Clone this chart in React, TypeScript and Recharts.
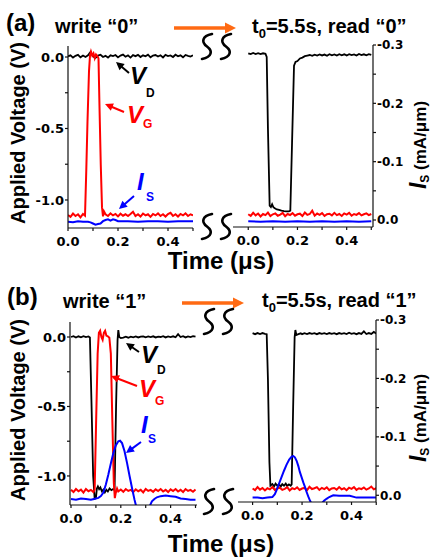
import React from 'react';
import { LineChart, Line, XAxis, YAxis } from 'recharts';

const W = 436;
const H = 557;
const SANS = '"Liberation Sans", Arial, sans-serif';
const TICKF = '"DejaVu Sans", sans-serif';

// ---------- data ----------
type Pt = [number, number];

const tSteps = [
  0, 0.01, 0.02, 0.03, 0.04, 0.05, 0.06, 0.07, 0.08, 0.09,
  0.1, 0.11, 0.12, 0.13, 0.14, 0.15, 0.16, 0.17, 0.18, 0.19,
  0.2, 0.21, 0.22, 0.23, 0.24, 0.25, 0.26, 0.27, 0.28, 0.29,
  0.3, 0.31, 0.32, 0.33, 0.34, 0.35, 0.36, 0.37, 0.38, 0.39,
  0.4, 0.41, 0.42, 0.43, 0.44, 0.45, 0.46, 0.47, 0.48, 0.49,
  0.5,
];

// (a) write "0"
const aWriteVD = [
  0.005, 0.012, -0.004, 0.008, 0.015, -0.002, 0.01, 0.0, 0.012, 0.035,
  0.004, -0.006, 0.01, 0.016, 0.0, 0.008, -0.004, 0.012, 0.006, 0.014,
  -0.003, 0.01, 0.017, 0.002, 0.011, -0.004, 0.013, 0.006, 0.015, 0.0,
  0.012, 0.005, 0.016, -0.002, 0.01, 0.014, 0.003, 0.012, -0.003, 0.015,
  0.007, 0.011, 0.0, 0.016, 0.005, 0.012, -0.002, 0.014, 0.008, 0.003,
  0.012,
];
const aWriteVG: Pt[] = [
  [0, -1.105], [0.01, -1.118], [0.02, -1.095], [0.03, -1.112], [0.04, -1.1], [0.05, -1.122], [0.06, -1.098],
  [0.068, -1.11], [0.073, -0.8], [0.078, -0.45], [0.084, -0.1], [0.088, 0.01], [0.092, 0.038], [0.097, 0.01],
  [0.102, 0.025], [0.107, -0.008], [0.112, 0.018], [0.118, 0.005], [0.122, -0.01], [0.126, -0.35], [0.131, -0.75],
  [0.136, -1.05], [0.14, -1.115], [0.144, -1.08], [0.15, -1.1], [0.16, -1.112], [0.17, -1.094], [0.18, -1.108],
  [0.19, -1.098], [0.2, -1.115], [0.21, -1.096], [0.22, -1.11], [0.23, -1.1], [0.24, -1.112], [0.25, -1.098],
  [0.26, -1.082], [0.27, -1.112], [0.28, -1.1], [0.29, -1.116], [0.3, -1.095], [0.31, -1.108], [0.32, -1.1],
  [0.33, -1.118], [0.34, -1.098], [0.35, -1.108], [0.36, -1.094], [0.37, -1.112], [0.38, -1.1], [0.39, -1.116],
  [0.4, -1.098], [0.41, -1.09], [0.42, -1.112], [0.43, -1.1], [0.44, -1.116], [0.45, -1.098], [0.46, -1.108],
  [0.47, -1.094], [0.48, -1.112], [0.49, -1.1], [0.5, -1.108],
];
const aWriteIs: Pt[] = [
  [0, 0.003], [0.02, 0.004], [0.04, 0.002], [0.06, 0.003], [0.08, 0.003], [0.09, 0.004], [0.1, 0.006],
  [0.11, 0.008], [0.12, 0.007], [0.13, 0.006], [0.14, 0.002], [0.15, 0.0], [0.16, -0.001], [0.17, 0.001],
  [0.18, -0.001], [0.19, 0.0], [0.2, 0.002], [0.24, 0.002], [0.28, 0.003], [0.32, 0.002], [0.36, 0.002],
  [0.4, 0.003], [0.44, 0.002], [0.48, 0.002], [0.5, 0.002],
];

// (a) read "0"
const aReadVD: Pt[] = [
  [0, 0.026], [0.01, 0.02], [0.02, 0.028], [0.03, 0.021], [0.04, 0.027], [0.05, 0.02], [0.06, 0.026],
  [0.07, 0.022], [0.075, 0.0], [0.08, -0.5], [0.087, -1.04], [0.092, -1.05], [0.097, -1.03], [0.102, -1.05],
  [0.108, -1.058], [0.116, -1.066], [0.125, -1.07], [0.135, -1.075], [0.145, -1.078], [0.155, -1.08],
  [0.165, -1.08], [0.171, -1.075], [0.178, -0.6], [0.186, -0.06], [0.192, -0.035], [0.2, -0.028], [0.21, -0.01],
  [0.22, -0.004], [0.23, 0.006], [0.24, 0.01], [0.25, 0.014], [0.26, 0.008], [0.27, 0.016], [0.28, 0.01],
  [0.29, 0.018], [0.3, 0.011], [0.31, 0.017], [0.32, 0.009], [0.33, 0.02], [0.34, 0.012], [0.35, 0.018],
  [0.36, 0.01], [0.37, 0.02], [0.38, 0.012], [0.39, 0.019], [0.4, 0.011], [0.41, 0.02], [0.42, 0.013],
  [0.43, 0.018], [0.44, 0.01], [0.45, 0.021], [0.46, 0.013], [0.47, 0.019], [0.48, 0.012], [0.49, 0.02],
  [0.5, 0.015],
];
const aReadVG = [
  -1.1, -1.112, -1.09, -1.108, -1.095, -1.115, -1.098, -1.106, -1.088, -1.112,
  -1.1, -1.094, -1.11, -1.102, -1.09, -1.114, -1.098, -1.105, -1.092, -1.11,
  -1.1, -1.096, -1.112, -1.088, -1.104, -1.098, -1.075, -1.11, -1.095, -1.104,
  -1.092, -1.112, -1.1, -1.096, -1.108, -1.09, -1.106, -1.098, -1.112, -1.094,
  -1.102, -1.09, -1.11, -1.098, -1.104, -1.092, -1.108, -1.1, -1.094, -1.106,
  -1.098,
];
const aReadIs: Pt[] = [
  [0, 0.002], [0.05, 0.003], [0.1, 0.002], [0.15, 0.003], [0.2, 0.002], [0.25, 0.003],
  [0.3, 0.002], [0.35, 0.003], [0.4, 0.002], [0.45, 0.003], [0.5, 0.002],
];

// (b) write "1"
const bWriteVD: Pt[] = [
  [0, 0.0], [0.01, 0.006], [0.02, -0.004], [0.03, 0.005], [0.04, -0.002], [0.05, 0.006], [0.06, 0.0],
  [0.07, 0.004], [0.076, -0.004], [0.082, -0.45], [0.089, -1.0], [0.095, -1.165], [0.1, -1.16], [0.104, -1.09],
  [0.108, -1.075], [0.113, -1.095], [0.118, -1.082], [0.124, -1.11], [0.13, -1.098], [0.136, -1.118],
  [0.142, -1.1], [0.148, -1.112], [0.155, -1.09], [0.162, -1.102], [0.168, -1.095], [0.175, -1.1],
  [0.181, -0.5], [0.187, -0.02], [0.19, 0.05], [0.194, 0.0], [0.2, -0.008], [0.21, -0.004], [0.22, 0.002],
  [0.23, -0.005], [0.24, 0.003], [0.25, -0.002], [0.26, 0.004], [0.27, -0.003], [0.28, 0.003], [0.29, 0.005],
  [0.3, -0.002], [0.31, 0.004], [0.32, 0.0], [0.33, 0.005], [0.34, -0.003], [0.35, 0.003], [0.36, 0.0],
  [0.37, 0.006], [0.38, -0.003], [0.39, 0.004], [0.4, 0.0], [0.41, 0.005], [0.42, -0.002], [0.43, 0.02],
  [0.44, 0.0], [0.45, 0.006], [0.46, -0.003], [0.47, 0.004], [0.48, 0.0], [0.49, 0.006], [0.5, 0.002],
];
const bWriteVG: Pt[] = [
  [0, -1.1], [0.01, -1.116], [0.02, -1.094], [0.03, -1.11], [0.04, -1.098], [0.05, -1.12], [0.06, -1.094],
  [0.07, -1.11], [0.08, -1.1], [0.09, -1.116], [0.095, -1.1], [0.101, -0.6], [0.107, -0.12], [0.112, 0.03],
  [0.117, 0.045], [0.122, 0.0], [0.127, -0.02], [0.132, 0.03], [0.137, 0.045], [0.142, 0.01], [0.148, 0.005],
  [0.154, -0.005], [0.16, -0.12], [0.166, -0.6], [0.172, -1.05], [0.176, -1.16], [0.18, -1.12], [0.185, -1.09],
  [0.19, -1.112], [0.2, -1.098], [0.21, -1.114], [0.22, -1.094], [0.23, -1.108], [0.24, -1.1], [0.25, -1.116],
  [0.26, -1.096], [0.27, -1.11], [0.28, -1.1], [0.29, -1.118], [0.3, -1.094], [0.31, -1.108], [0.32, -1.1],
  [0.33, -1.114], [0.34, -1.096], [0.35, -1.108], [0.36, -1.094], [0.37, -1.112], [0.38, -1.1], [0.39, -1.116],
  [0.4, -1.096], [0.41, -1.108], [0.42, -1.094], [0.43, -1.112], [0.44, -1.1], [0.45, -1.116], [0.46, -1.094],
  [0.47, -1.108], [0.48, -1.1], [0.49, -1.114], [0.5, -1.098],
];
const bWriteIs: Pt[] = [
  [0, 0.007], [0.02, 0.008], [0.04, 0.006], [0.06, 0.007], [0.08, 0.008], [0.1, 0.006], [0.11, 0.005],
  [0.12, 0.002], [0.13, -0.004], [0.14, -0.018], [0.15, -0.035], [0.16, -0.054], [0.17, -0.072], [0.18, -0.085],
  [0.19, -0.092], [0.197, -0.093], [0.205, -0.089], [0.215, -0.075], [0.225, -0.055], [0.235, -0.033],
  [0.245, -0.012], [0.255, 0.008], [0.265, 0.025], [0.28, 0.04], [0.3, 0.035], [0.315, 0.02], [0.325, 0.011],
  [0.335, 0.007], [0.345, 0.004], [0.36, 0.002], [0.38, 0.001], [0.4, 0.002], [0.42, 0.003], [0.44, 0.006],
  [0.46, 0.007], [0.48, 0.008], [0.5, 0.008],
];

// (b) read "1"
const bReadVD: Pt[] = [
  [0, 0.027], [0.01, 0.02], [0.02, 0.028], [0.03, 0.021], [0.04, 0.028], [0.05, 0.022], [0.057, 0.02],
  [0.062, -0.3], [0.068, -0.9], [0.072, -1.07], [0.08, -1.058], [0.087, -1.075], [0.093, -1.055], [0.1, -1.07],
  [0.107, -1.06], [0.114, -1.076], [0.12, -1.058], [0.127, -1.07], [0.134, -1.055], [0.14, -1.072],
  [0.147, -1.06], [0.154, -1.07], [0.158, -1.06], [0.164, -0.5], [0.17, 0.0], [0.173, 0.05], [0.177, 0.014],
  [0.185, 0.02], [0.195, 0.026], [0.2, 0.02], [0.21, 0.027], [0.22, 0.021], [0.23, 0.028], [0.24, 0.022],
  [0.25, 0.027], [0.26, 0.02], [0.27, 0.028], [0.28, 0.022], [0.29, 0.027], [0.3, 0.021], [0.31, 0.028],
  [0.32, 0.022], [0.33, 0.027], [0.34, 0.02], [0.35, 0.028], [0.36, 0.022], [0.37, 0.027], [0.38, 0.021],
  [0.39, 0.03], [0.4, 0.022], [0.41, 0.027], [0.42, 0.02], [0.43, 0.028], [0.44, 0.022], [0.45, 0.04],
  [0.46, 0.021], [0.47, 0.028], [0.48, 0.022], [0.49, 0.036], [0.5, 0.024],
];
const bReadVG = [
  -1.09, -1.102, -1.08, -1.098, -1.086, -1.104, -1.088, -1.096, -1.079, -1.1,
  -1.09, -1.084, -1.1, -1.092, -1.08, -1.104, -1.088, -1.095, -1.082, -1.1,
  -1.09, -1.086, -1.102, -1.078, -1.094, -1.088, -1.08, -1.1, -1.085, -1.094,
  -1.082, -1.102, -1.09, -1.086, -1.098, -1.08, -1.096, -1.088, -1.102, -1.084,
  -1.092, -1.08, -1.1, -1.088, -1.094, -1.082, -1.098, -1.09, -1.076, -1.096,
  -1.088,
];
const bReadIs: Pt[] = [
  [0, 0.004], [0.02, 0.004], [0.04, 0.005], [0.06, 0.004], [0.08, 0.003], [0.09, -0.002], [0.097, -0.009],
  [0.107, -0.02], [0.117, -0.031], [0.127, -0.042], [0.137, -0.052], [0.148, -0.061], [0.158, -0.066],
  [0.165, -0.067], [0.171, -0.065], [0.178, -0.059], [0.185, -0.05], [0.191, -0.04], [0.198, -0.031],
  [0.205, -0.022], [0.212, -0.014], [0.218, -0.006], [0.225, 0.002], [0.232, 0.009], [0.24, 0.016],
  [0.255, 0.03], [0.27, 0.025], [0.279, 0.014], [0.29, 0.009], [0.299, 0.006], [0.31, 0.003], [0.326, 0.0],
  [0.35, 0.001], [0.393, 0.001], [0.42, 0.004], [0.46, 0.004], [0.5, 0.004],
];

const xTicks = [0, 0.1, 0.2, 0.3, 0.4, 0.5];
const xLabelTicks = [0, 0.2, 0.4];
const vTicks = [-1, -0.75, -0.5, -0.25, 0];
const vLabelTicks = [-1, -0.5, 0];
const iTicks = [-0.3, -0.25, -0.2, -0.15, -0.1, -0.05, 0];
const iLabelTicks = [-0.3, -0.2, -0.1, 0];

// ---------- helpers ----------
const fromPairs = (p: Pt[]) => p.map(([t, v]) => ({ t, v }));
const fromSteps = (vals: number[]) =>
  tSteps.map((t, i) => ({ t, v: vals[i] })).filter((d) => d.v !== undefined);

const fmt = (labels: number[]) => (v: number) =>
  labels.some((l) => Math.abs(l - v) < 1e-9) ? (Math.abs(v) < 1e-9 ? '0.0' : v.toFixed(1)) : '';

type Series = { data: { t: number; v: number }[]; axis: 'v' | 'i'; color: string; width: number };

type PlotProps = {
  box: [number, number, number, number];
  xDom: [number, number];
  vDom: [number, number];
  iDom: [number, number];
  side: 'left' | 'right';
  series: Series[];
};

function Plot({ box, xDom, vDom, iDom, side, series }: PlotProps) {
  const [x0, y0, x1, y1] = box;
  const yW = 50;
  const rW = 40;
  const xH = 20;
  const margin =
    side === 'left'
      ? { top: y0, left: x0 - yW, right: W - x1, bottom: H - y1 - xH }
      : { top: y0, left: x0, right: W - x1 - rW, bottom: H - y1 - xH };
  const axisStroke = { stroke: '#111', strokeWidth: 1.2 };
  return (
    <div style={{ position: 'absolute', left: 0, top: 0 }}>
      <LineChart width={W} height={H} margin={margin}>
        <XAxis
          xAxisId="b"
          type="number"
          dataKey="t"
          domain={xDom}
          allowDataOverflow
          ticks={xTicks}
          interval={0}
          tickFormatter={fmt(xLabelTicks)}
          height={xH}
          tickSize={3}
          tickMargin={6}
          axisLine={axisStroke}
          tickLine={axisStroke}
          tick={{ fontFamily: TICKF, fontSize: 13, fontWeight: 'bold', fill: '#000' }}
        />
        <XAxis
          xAxisId="top"
          orientation="top"
          type="number"
          dataKey="t"
          domain={xDom}
          allowDataOverflow
          height={0}
          tick={false}
          tickLine={false}
          axisLine={{ stroke: '#666', strokeWidth: 1 }}
        />
        <YAxis
          yAxisId="v"
          type="number"
          domain={vDom}
          allowDataOverflow
          hide={side !== 'left'}
          width={yW}
          ticks={vTicks}
          interval={0}
          tickFormatter={fmt(vLabelTicks)}
          tickSize={3}
          tickMargin={1}
          axisLine={axisStroke}
          tickLine={axisStroke}
          tick={{ fontFamily: TICKF, fontSize: 13, fontWeight: 'bold', fill: '#000' }}
        />
        <YAxis
          yAxisId="i"
          orientation="right"
          type="number"
          domain={iDom}
          reversed
          allowDataOverflow
          hide={side !== 'right'}
          width={rW}
          ticks={iTicks}
          interval={0}
          tickFormatter={fmt(iLabelTicks)}
          tickSize={3}
          tickMargin={1}
          axisLine={axisStroke}
          tickLine={axisStroke}
          tick={{ fontFamily: TICKF, fontSize: 12, fontWeight: 'bold', fill: '#000' }}
        />
        {series.map((s, k) => (
          <Line
            key={k}
            xAxisId="b"
            yAxisId={s.axis}
            data={s.data}
            dataKey="v"
            type="linear"
            stroke={s.color}
            strokeWidth={s.width}
            dot={false}
            activeDot={false}
            isAnimationActive={false}
          />
        ))}
      </LineChart>
    </div>
  );
}

function Arrow({ x1, y1, x2, y2, color, w = 2, hl = 8, hw = 8 }: any) {
  const dx = x2 - x1;
  const dy = y2 - y1;
  const L = Math.hypot(dx, dy);
  const ux = dx / L;
  const uy = dy / L;
  const bx = x2 - ux * hl;
  const by = y2 - uy * hl;
  const px = -uy;
  const py = ux;
  return (
    <g>
      <line x1={x1} y1={y1} x2={bx + ux} y2={by + uy} stroke={color} strokeWidth={w} />
      <polygon
        points={`${x2},${y2} ${bx + (px * hw) / 2},${by + (py * hw) / 2} ${bx - (px * hw) / 2},${by - (py * hw) / 2}`}
        fill={color}
      />
    </g>
  );
}

function BreakS({ x, y }: { x: number; y: number }) {
  const d = `M ${x + 11} ${y} C ${x + 1} ${y + 2}, ${x} ${y + 8}, ${x + 6} ${y + 12.5} C ${x + 12} ${y + 17}, ${x + 11} ${y + 23}, ${x + 1} ${y + 25}`;
  return <path d={d} fill="none" stroke="#000" strokeWidth={2.6} strokeLinecap="round" />;
}

function Sym({ x, y, sx, sy, main, sub, color }: any) {
  return (
    <g fill={color} fontFamily={SANS} fontWeight="bold">
      <text x={x} y={y} fontSize={24} fontStyle="italic">{main}</text>
      <text x={sx} y={sy} fontSize={12}>{sub}</text>
    </g>
  );
}

const RED = '#ff0000';
const BLUE = '#0000ff';
const ORANGE = '#ff6a13';

export default function App() {
  return (
    <div style={{ position: 'absolute', left: 0, top: 0, width: W, height: H, background: '#fff', overflow: 'hidden' }}>
      <Plot
        box={[68, 46, 193, 228]}
        xDom={[0, 0.5]}
        vDom={[-1.196, 0.077]}
        iDom={[-0.2974, 0.0137]}
        side="left"
        series={[
          { data: fromSteps(aWriteVD), axis: 'v', color: '#000', width: 1.8 },
          { data: fromPairs(aWriteVG), axis: 'v', color: RED, width: 2 },
          { data: fromPairs(aWriteIs), axis: 'i', color: BLUE, width: 2 },
        ]}
      />
      <Plot
        box={[233, 45, 373, 227]}
        xDom={[-0.062, 0.507]}
        vDom={[-1.189, 0.084]}
        iDom={[-0.3, 0.012]}
        side="right"
        series={[
          { data: fromPairs(aReadVD), axis: 'v', color: '#000', width: 1.8 },
          { data: fromSteps(aReadVG), axis: 'v', color: RED, width: 2 },
          { data: fromPairs(aReadIs), axis: 'i', color: BLUE, width: 2 },
        ]}
      />
      <Plot
        box={[70, 322, 197, 505]}
        xDom={[-0.004, 0.506]}
        vDom={[-1.209, 0.108]}
        iDom={[-0.2967, 0.0172]}
        side="left"
        series={[
          { data: fromPairs(bWriteVD), axis: 'v', color: '#000', width: 1.8 },
          { data: fromPairs(bWriteVG), axis: 'v', color: RED, width: 2 },
          { data: fromPairs(bWriteIs), axis: 'i', color: BLUE, width: 2 },
        ]}
      />
      <Plot
        box={[238, 320, 376, 502]}
        xDom={[-0.059, 0.499]}
        vDom={[-1.187, 0.122]}
        iDom={[-0.3, 0.0115]}
        side="right"
        series={[
          { data: fromPairs(bReadVD), axis: 'v', color: '#000', width: 1.8 },
          { data: fromSteps(bReadVG), axis: 'v', color: RED, width: 2 },
          { data: fromPairs(bReadIs), axis: 'i', color: BLUE, width: 2 },
        ]}
      />
      <svg width={W} height={H} style={{ position: 'absolute', left: 0, top: 0 }}>
        <g fontFamily={SANS} fontWeight="bold" fill="#000">
          {/* panel (a) */}
          <text x={6} y={31} fontSize={24}>(a)</text>
          <text x={55} y={33} fontSize={20}>write “0”</text>
          <text x={252} y={33} fontSize={20}>
            t<tspan fontSize={13} dy={5}>0</tspan>
            <tspan dy={-5}>=5.5s, read “0”</tspan>
          </text>
          <text transform="translate(25,133) rotate(-90)" textAnchor="middle" fontSize={20}>Applied Voltage (V)</text>
          <text x={221} y={269} textAnchor="middle" fontSize={24}>Time (μs)</text>
          <text transform="translate(426,145) rotate(-90)" textAnchor="middle">
            <tspan fontStyle="italic" fontSize={23}>I</tspan>
            <tspan fontSize={12} dy={3}>S</tspan>
            <tspan fontSize={17} dy={-3}>{'\u00a0(mA/μm)'}</tspan>
          </text>

          {/* panel (b) */}
          <text x={7} y={305} fontSize={24}>(b)</text>
          <text x={63} y={308} fontSize={20}>write “1”</text>
          <text x={262} y={307} fontSize={20}>
            t<tspan fontSize={13} dy={5}>0</tspan>
            <tspan dy={-5}>=5.5s, read “1”</tspan>
          </text>
          <text transform="translate(25,410) rotate(-90)" textAnchor="middle" fontSize={20}>Applied Voltage (V)</text>
          <text x={221} y={552} textAnchor="middle" fontSize={24}>Time (μs)</text>
          <text transform="translate(426,418) rotate(-90)" textAnchor="middle">
            <tspan fontStyle="italic" fontSize={23}>I</tspan>
            <tspan fontSize={12} dy={3}>S</tspan>
            <tspan fontSize={17} dy={-3}>{'\u00a0(mA/μm)'}</tspan>
          </text>
        </g>

        <Arrow x1={174} y1={28} x2={236} y2={28} color={ORANGE} w={3.5} hl={11} hw={11} />
        <Arrow x1={182} y1={303} x2={244} y2={303} color={ORANGE} w={3.5} hl={11} hw={11} />

        <BreakS x={201} y={34} />
        <BreakS x={220} y={34} />
        <BreakS x={201} y={214} />
        <BreakS x={220} y={214} />
        <BreakS x={203} y={309} />
        <BreakS x={222} y={309} />
        <BreakS x={203} y={489} />
        <BreakS x={222} y={489} />

        {/* annotations (a) */}
        <Arrow x1={129} y1={73} x2={116} y2={62} color="#000" />
        <Sym x={130} y={84} sx={146} sy={97} main="V" sub="D" color="#000" />
        <Arrow x1={124} y1={112} x2={105} y2={104} color={RED} />
        <Sym x={127} y={123} sx={143} sy={128} main="V" sub="G" color={RED} />
        <Arrow x1={134} y1={196} x2={119} y2={209} color={BLUE} />
        <Sym x={137} y={190} sx={146} sy={201} main="I" sub="S" color={BLUE} />

        {/* annotations (b) */}
        <Arrow x1={139} y1={352} x2={126} y2={343} color="#000" />
        <Sym x={141} y={363} sx={157} sy={374} main="V" sub="D" color="#000" />
        <Arrow x1={137} y1={386} x2={111} y2={376} color={RED} />
        <Sym x={139} y={397} sx={155} sy={405} main="V" sub="G" color={RED} />
        <Arrow x1={141} y1={442} x2={126} y2={453} color={BLUE} />
        <Sym x={141} y={433} sx={148} sy={443} main="I" sub="S" color={BLUE} />
      </svg>
    </div>
  );
}
